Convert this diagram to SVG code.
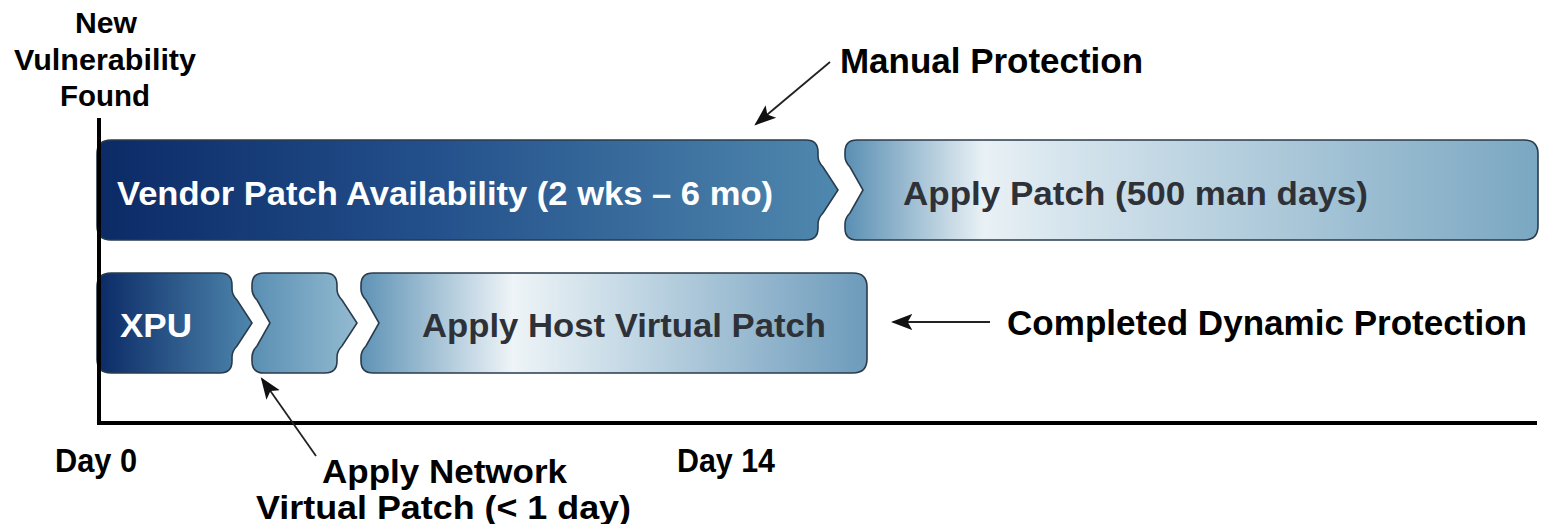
<svg xmlns="http://www.w3.org/2000/svg" width="1543" height="524" viewBox="0 0 1543 524">
<style>
text{font-family:"Liberation Sans",Arial,sans-serif;font-weight:bold;}
.lbl{fill:#000;}
.wt{fill:#fff;}
.dk{fill:#2e3238;}
.box{stroke:#2a3b4c;stroke-width:1.6;}
.axis{stroke:#000;stroke-width:4;fill:none;}
.arr{stroke:#222;stroke-width:1.8;fill:none;marker-end:url(#ah);}
</style>
<defs>
<marker id="ah" viewBox="0 0 10 10" refX="9" refY="5" markerWidth="12" markerHeight="12" markerUnits="strokeWidth" orient="auto">
<path d="M0,1.2 L10,5 L0,8.8 L2.2,5 Z" fill="#111"/>
</marker>
<linearGradient id="g1" gradientUnits="userSpaceOnUse" x1="97" y1="0" x2="838" y2="0">
<stop offset="0" stop-color="#0b2a66"/><stop offset="0.45" stop-color="#23508b"/><stop offset="1" stop-color="#4f88ae"/>
</linearGradient>
<linearGradient id="g2" gradientUnits="userSpaceOnUse" x1="845" y1="0" x2="1538" y2="0">
<stop offset="0" stop-color="#5a8fb3"/><stop offset="0.2" stop-color="#e9f1f5"/><stop offset="0.3" stop-color="#d8e6ee"/><stop offset="1" stop-color="#7aa7c2"/>
</linearGradient>
<linearGradient id="g3" gradientUnits="userSpaceOnUse" x1="97" y1="0" x2="252" y2="0">
<stop offset="0" stop-color="#0b2a66"/><stop offset="1" stop-color="#4e86ad"/>
</linearGradient>
<linearGradient id="g4" gradientUnits="userSpaceOnUse" x1="252" y1="0" x2="357" y2="0">
<stop offset="0" stop-color="#5a8fb3"/><stop offset="1" stop-color="#93bbd1"/>
</linearGradient>
<linearGradient id="g5" gradientUnits="userSpaceOnUse" x1="361" y1="0" x2="867" y2="0">
<stop offset="0" stop-color="#5f93b6"/><stop offset="0.3" stop-color="#eef4f7"/><stop offset="0.5" stop-color="#c9dce7"/><stop offset="1" stop-color="#6d9bbb"/>
</linearGradient>
</defs>
<rect width="1543" height="524" fill="#fff"/>

<g id="vendor-patch">
<path class="box" fill="url(#g1)" d="M111,140 H806 Q818,140 818,152 V156 Q818,162 823,167 L838,190 L823,213 Q818,218 818,224 V228 Q818,240 806,240 H111 Q97,240 97,226 V154 Q97,140 111,140 Z"/>
<text class="wt" x="117" y="205" font-size="34" textLength="656" lengthAdjust="spacingAndGlyphs">Vendor Patch Availability (2 wks – 6 mo)</text>
</g>
<g id="apply-patch">
<path class="box" fill="url(#g2)" d="M857,140 H1524 Q1538,140 1538,154 V226 Q1538,240 1524,240 H857 Q845,240 845,228 V224 Q845,218 850,213 L863,190 L850,167 Q845,162 845,156 V152 Q845,140 857,140 Z"/>
<text class="dk" x="903" y="205" font-size="34" textLength="465" lengthAdjust="spacingAndGlyphs">Apply Patch (500 man days)</text>
</g>
<g id="xpu">
<path class="box" fill="url(#g3)" d="M111,273 H220 Q232,273 232,285 V289 Q232,295 237,300 L252,323 L237,346 Q232,351 232,357 V361 Q232,373 220,373 H111 Q97,373 97,359 V287 Q97,273 111,273 Z"/>
<text class="wt" x="120" y="337" font-size="34" textLength="72" lengthAdjust="spacingAndGlyphs">XPU</text>
</g>
<g id="network-patch">
<path class="box" fill="url(#g4)" d="M264,273 H325 Q337,273 337,285 V289 Q337,295 342,300 L357,323 L342,346 Q337,351 337,357 V361 Q337,373 325,373 H264 Q252,373 252,361 V357 Q252,351 257,346 L270,323 L257,300 Q252,295 252,289 V285 Q252,273 264,273 Z"/>
</g>
<g id="host-patch">
<path class="box" fill="url(#g5)" d="M373,273 H853 Q867,273 867,287 V359 Q867,373 853,373 H373 Q361,373 361,361 V357 Q361,351 366,346 L379,323 L366,300 Q361,295 361,289 V285 Q361,273 373,273 Z"/>
<text class="dk" x="422" y="337" font-size="34" textLength="404" lengthAdjust="spacingAndGlyphs">Apply Host Virtual Patch</text>
</g>

<g id="axes">
<line class="axis" x1="99" y1="118" x2="99" y2="425"/>
<line class="axis" x1="97" y1="423" x2="1537" y2="423"/>
</g>

<g id="labels">
<text class="lbl" x="106" y="33" font-size="29" text-anchor="middle" textLength="62" lengthAdjust="spacingAndGlyphs">New</text>
<text class="lbl" x="105" y="70" font-size="29" text-anchor="middle" textLength="182" lengthAdjust="spacingAndGlyphs">Vulnerability</text>
<text class="lbl" x="105" y="106" font-size="29" text-anchor="middle" textLength="90" lengthAdjust="spacingAndGlyphs">Found</text>
<text class="lbl" x="840" y="73" font-size="35" textLength="303" lengthAdjust="spacingAndGlyphs">Manual Protection</text>
<text class="lbl" x="1007" y="335" font-size="35" textLength="520" lengthAdjust="spacingAndGlyphs">Completed Dynamic Protection</text>
<text class="lbl" x="55" y="472" font-size="33" textLength="82" lengthAdjust="spacingAndGlyphs">Day 0</text>
<text class="lbl" x="677" y="472" font-size="33" textLength="98" lengthAdjust="spacingAndGlyphs">Day 14</text>
<text class="lbl" x="322" y="483" font-size="34" textLength="245" lengthAdjust="spacingAndGlyphs">Apply Network</text>
<text class="lbl" x="256" y="519" font-size="34" textLength="375" lengthAdjust="spacingAndGlyphs">Virtual Patch (&lt; 1 day)</text>
</g>

<g id="connectors">
<line class="arr" x1="830" y1="62" x2="756" y2="124"/>
<line class="arr" x1="990" y1="322" x2="893" y2="322"/>
<line class="arr" x1="316" y1="456" x2="262" y2="379"/>
</g>
</svg>
